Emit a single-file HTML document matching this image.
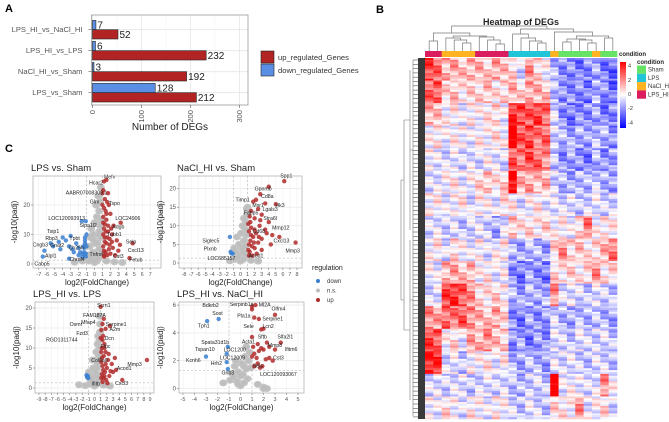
<!DOCTYPE html>
<html><head><meta charset="utf-8"><style>
body{margin:0;background:#fff}
svg{display:block;font-family:"Liberation Sans",sans-serif}
</style></head><body>
<svg id="fig" width="669" height="422" viewBox="0 0 669 422">
<g id="panelA"></g>
<g id="panelB"></g>
<g id="panelC"></g>
</svg>
<script>
// ---------- Panel A data ----------
const barCategories = ["LPS_HI_vs_NaCl_HI","LPS_HI_vs_LPS","NaCl_HI_vs_Sham","LPS_vs_Sham"];
const upValues = [52,232,192,212];
const downValues = [7,6,3,128];
const barTicks = [0,100,200,300];

// ---------- Panel B data ----------
const conditionGroups = ["LPS_HI","LPS_HI","NaCl_HI","NaCl_HI","NaCl_HI","NaCl_HI","LPS_HI","LPS_HI","LPS_HI","LPS_HI","LPS","LPS","LPS","LPS","LPS","NaCl_HI","Sham","Sham","Sham","Sham","NaCl_HI","Sham","Sham"];
const heatBlocks = [
 [2.5,2,1,1.2,0.8,1,1,0.6,1.2,0.8,0.5,-0.5,1.5,0.5,0,-1,-1.5,-1.5,-1.8,-1.5,-1.2,-1.8,-2],
 [2,2.2,0.5,0.8,0.3,0.6,0.5,0.8,0.3,0.5,1,0.5,1.2,1,0.8,-0.8,-1.5,-1.5,-1.5,-1.8,-1,-1.5,-2],
 [1,0.8,0,0.3,-0.3,0.2,0,0.3,0.5,-0.2,2.8,2.5,2.2,2.6,2,-0.5,-1.5,-1.8,-1.5,-1.5,-1.2,-1.8,-1.5],
 [0,0.3,-0.2,0.2,0,-0.3,0.2,0,0.4,0,4,2.2,2.5,1.8,2,-0.5,-1,-1.2,-1,-1.3,-0.8,-1,-1.5],
 [0,-0.3,-0.5,-0.2,-0.6,-0.3,-0.5,0,-0.3,-0.5,2.2,1.8,2.4,2,1.5,-0.8,-1.5,-1.2,-1.5,-1.8,-1,-1.5,-1.2],
 [-0.5,-0.3,0,0.3,-0.3,0,0.5,0.8,0.3,0.6,3.5,1,1.2,0.8,1,-0.5,-1,-1.2,-0.8,-1,-0.6,-1,-1.3],
 [0,0.2,-0.3,0,0.3,-0.5,0.2,0,-0.3,0.4,0.2,-0.5,0,0.3,-0.3,-0.3,-0.5,-0.3,-0.8,-0.5,-0.2,-0.6,-0.5],
 [-0.5,-0.3,-0.6,-0.4,-0.8,-0.5,-0.3,-0.6,-1.2,-0.4,0.8,0.3,0.5,0.2,0.6,0,0.2,-0.2,0.5,1.8,0,0.3,0.2],
 [0,0.3,-0.5,0.5,0,-0.3,0.2,-0.5,0,0.3,-1,-1.2,-0.8,-1,-1.3,0.5,1.5,0.5,0.8,0.3,0.5,1,1.8],
 [0,-0.3,1,1.2,0.8,1,0,0.3,-0.3,0,-1.5,-1.8,-1.2,-1.5,-1.8,0.5,0.3,0.6,0.2,0.5,1.5,0.3,0.5],
 [-0.5,-0.3,2.5,2.8,2.2,1.5,0.5,0.3,0.6,0.2,-1,-1.3,-0.8,-1.2,-1,1.5,-0.5,-0.3,-0.5,-0.8,-0.3,-0.6,-0.8],
 [1.5,1.2,2,1.8,2.2,1.5,1,0.8,1.2,0.5,-1.5,-1.8,-1.2,-1.5,-1.3,-0.5,-1,-1.2,-0.8,-1,-0.8,-1,-1.2],
 [2.5,2.2,0,0.5,-0.3,1.2,1,1.5,0.8,0.6,-1.5,-1.2,-1.8,-1.3,-1.5,-0.3,-0.5,-0.8,-0.3,-0.5,-0.6,-0.4,-0.8],
 [3,2.8,-0.5,-0.2,-0.8,0,0,0.3,-0.3,0.2,-1,-1.2,-0.8,-1,-1.3,-0.3,-0.5,-0.3,-0.6,-0.8,-0.4,-0.5,-0.8],
 [-0.5,-0.3,-0.6,-0.4,-0.3,-0.8,-0.5,-0.3,-0.6,-0.4,-0.8,-1,-0.6,-0.5,-0.8,4,-0.3,0,-0.2,-0.5,-0.3,1.5,0],
 [0,-0.3,0.5,0,-0.5,0.3,0,-0.3,0.2,0,-0.5,-0.8,-0.3,-0.5,-0.8,0.5,0.3,0,1.5,-0.3,0,0.5,-0.5]
];
const rowOffsets = [0.7,-0.6,0.2,-0.9,0.5,-0.2,1.0,-0.4,0.3,-0.7,0.1];
const colorTicks = [4,2,0,-2,-4];
const legendConditions = ["Sham","LPS","NaCl_HI","LPS_HI"];

// ---------- Panel C data ----------
const v1Up = [[1.2,28],[1.5,28.5],[1.1,25],[1.0,24],[1.3,22],[1.6,21],[1.8,20],[1.2,19],[1.4,18],[2.0,17],[1.1,16],[1.5,15],[3.3,14],[2.4,13],[1.2,12],[1.7,11],[2.2,10],[1.3,9],[1.9,8.5],[2.8,8],[1.5,7],[3.2,6.5],[1.1,6],[2.3,5.5],[1.8,5],[3.0,4.5],[1.4,4],[2.0,3.5],[2.6,3],[4.4,2],[1.2,2.5],[1.6,3],[4.8,7],[1.3,13.5],[2.1,12],[1.0,20],[1.7,24],[1.1,10],[1.3,7.5],[1.6,9],[1.2,4.5],[1.9,6.5],[1.4,11],[1.1,14],[1.5,17],[1.2,3],[2.2,7.5],[1.7,13]];
const v1Down = [[-6.5,2.5],[-6.3,4.5],[-5.5,7],[-5.2,6],[-4.5,7.5],[-4.3,5],[-4,9],[-3.6,8],[-3.2,6],[-3,9.5],[-2.8,5],[-2.6,4],[-2.3,7],[-2.0,3],[-1.8,4],[-1.5,2.5],[-1.3,5.5],[-1.2,7],[-1.1,3.5],[-1.0,10],[-1.6,14.5],[-1.1,14.5],[-3.2,1.8],[-1.4,6],[-2,5.5],[-1.2,9],[-1.1,2.5],[-1.3,4],[-1.0,6],[-1.2,8],[-1.5,3.5]];
const v1NS = [[0,0.5],[0.3,1],[-0.3,1.5],[0.5,2],[-0.5,2.5],[0.2,3],[-0.2,4],[0.6,5],[-0.6,6],[0.1,7],[-0.1,8],[0.4,10],[-0.4,12],[0,14],[0.3,16],[0.6,18],[0.2,20],[0.5,23],[0.8,9],[-0.8,3],[0.9,4],[-0.9,6],[0.7,13],[-0.7,1],[2.5,0.7],[-2.5,0.6],[3.5,0.5],[1.5,1],[-1.5,1],[0.8,26],[0.6,11],[-0.5,9],[0.4,7],[-0.2,10],[0.8,15],[0.7,21]];
const v1Labels = [["Mefv",1.9,29],["Hcar2",0.2,27],["AABR07008309.1",-1,23.5],["Glrx",0,20.5],["Tspo",2.5,20],["LOC120093913",-3.5,15],["LOC24906",4.2,15],["Sipa1l2",-0.8,12.5],["Adgb",3,12],["Tubb1",2.5,9.5],["Tsip1",-5.2,10.5],["Rbp3",-5.4,8.2],["Tpbt",-2.5,8.2],["Cngb3",-6.8,6],["Gnat2",-4.7,5.8],["Ch25h",-2.3,5],["Alpl1",-5.5,2.2],["Chrdl4",-2.2,1],["Cabp5",-6.6,-0.5],["Selp",4.6,7],["Cxcl13",5.2,4],["Tnfrsf",0.2,2.7],["Cst3",3,2],["Fetub",5.2,0.8]];

const v2Up = [[6.2,22],[4,20.5],[2.8,18.5],[2.2,17],[1.8,16.5],[3.5,16],[5,15.8],[2.5,14.5],[1.5,14],[3,13],[1.3,12.5],[2,12],[4,11],[2.7,10],[1.5,9.5],[3.5,9],[1.2,8.5],[2.2,8],[4.5,7.5],[1.8,7],[5.5,7],[3,6.5],[1.4,6],[2.5,5.5],[7.8,5.5],[4.3,5],[1.6,4.5],[2,4],[3,3.5],[1.3,3],[2.3,2.5],[1.7,2],[3.7,8],[2.8,11.5],[1.1,10.5],[1.2,5],[1.5,7.5],[2,9],[1.1,3.5],[1.9,5.5],[2.6,7],[1.4,11],[1.2,2]];
const v2Down = [[-1.5,7],[-1.4,3],[-1.1,2.5],[-1.3,2.6]];
const v2NS = [[0,0.5],[0.4,1],[-0.4,1.5],[0.6,2.5],[-0.6,3],[0.2,4],[-0.2,5],[0.5,6],[-0.5,7],[0.1,8],[0.7,9],[0.3,10],[0.8,11],[0.5,12],[0.9,13],[1,15],[0.9,14.5],[-0.8,1],[0.9,2],[-0.9,4],[1.5,0.7],[-1.5,0.6],[2.5,0.5],[0.8,7.5],[0.3,3],[-0.3,2],[0.6,4.5]];
const v2Labels = [["Spp1",6.5,23],["Gpnmb",3.2,19.5],["Cd8a",3.8,17.5],["Hk3",5.6,15],["Timp1",0.3,16.5],["Msr1",2.5,15],["Lgals3",4.2,14],["Fabp5",1.5,13],["Stra6l",4.2,11.5],["Mmp12",5.7,9],["Cd68",2.6,8],["Cxcl13",5.8,5.5],["Mmp3",7.4,2.8],["Siglec5",-4.2,5.5],["Plxnb",-4.3,3.3],["LOC685157",-2.7,0.8],["Acod1",2.2,1.5]];

const v3Up = [[1,20.3],[1.5,17.3],[2.5,15.5],[1.3,16],[1.8,14.8],[1.1,14.5],[1.4,13],[1.0,12.5],[1.6,11],[1.2,10],[1.8,9],[3.3,7.5],[1.5,8],[2.2,7],[1.1,6.5],[2.8,6],[1.3,5.5],[2,5],[3.5,4.5],[1.7,4],[1.2,3.5],[2.4,3],[1.5,2.5],[1.9,2],[4.5,2],[1.3,1.5],[8.5,7],[3,4],[2.6,4.2],[1.1,9],[1.6,3],[2.1,1.2],[1.2,7.5],[1.4,4.5],[1.8,6],[1.1,2.5],[2.3,8.5],[1.6,10],[1.3,12]];
const v3Down = [[-1.1,3],[-1.2,2.7],[-1.0,2.5],[-1.3,3.2]];
const v3NS = [[0,0.5],[0.4,1],[-0.4,1.5],[0.6,2],[-0.6,3],[0.2,4],[-0.2,5],[0.5,6],[-0.3,7],[0.7,8],[0.3,9],[0.8,10],[0.5,11],[0.8,12],[0.6,13],[0.9,14],[-0.8,1],[0.9,3],[-0.9,4],[1.5,0.7],[-1.5,0.6],[-2.5,0.8],[2.5,0.5],[0.9,16],[0.8,18],[-0.7,2.2],[0.3,3],[-0.3,2.5],[0.6,7],[0.4,5]];
const v3Labels = [["Scrn1",1.5,20.3],["FAM187A",0,17.8],["Serpine1",3.5,15.5],["Osmr",-3,15.5],["Mfap4",-1,16],["A2m",3.3,14.2],["Fzd3",-2,13.2],["Dcn",2.4,12],["RGD1311744",-5.3,11.6],["Flnc",1.8,10],["Col6a0",0.8,6.5],["Acod1",4.8,4.5],["Mmp3",6.5,5.5],["Cxcl3",4.4,0.8],["Ifitb",0.2,0.6]];

const v4Up = [[1,5.9],[1.3,6],[1.0,5.7],[3,5.3],[1.2,5.1],[1.6,5],[2,4.3],[1.8,4.25],[1,3.7],[1.5,3.2],[2.3,3.3],[3.5,3.3],[2.5,3],[1.8,2.9],[3,2.8],[2.0,2.8],[1.2,2.5],[1.6,2.7],[2.8,2],[2.2,2.1],[1.0,2.3],[1.5,1.8],[1.2,1.6],[1.9,1.6],[1.1,3],[2.5,2.2],[1.4,2.2],[1.7,1.5]];
const v4Down = [[-2.9,4.85],[-1.9,5],[-1.1,3],[-1.2,2.5],[-3,2.3],[-1.2,1.9],[-1.1,1.4]];
const v4NS = [[0,0.2],[0.3,0.4],[-0.3,0.5],[0.6,0.7],[-0.6,0.8],[0.2,1],[-0.2,1.2],[0.5,1.4],[-0.5,1.6],[0.1,1.8],[0.7,2],[-0.7,1.1],[0.9,1.5],[0.4,2.3],[-0.9,0.6],[1.5,0.3],[2,0.1],[-1.5,0.4],[0.8,2.6],[0.5,3],[-0.4,2],[2,0],[2.3,0],[0,0.9],[0.3,1.6],[-0.2,0.3]];
const v4Labels = [["Bdkrb2",-2.6,5.85],["Serpinb1a",0.1,5.95],["Ml2A",2.1,5.9],["Olfm4",3.3,5.6],["Sost",-2,5.3],["Pla1a",0.3,5.1],["Serpine1",2.8,4.9],["Tph1",-3.2,4.4],["Sele",0.7,4.35],["Lcn2",2.4,4.35],["Sftb",1.9,3.6],["Slfa2l1",3.9,3.6],["Spata31d1b",-2.2,3.2],["Acta1",0.7,3.25],["Mmp8",3,3],["Ifitm6",4.4,2.7],["Tspan10",-3.1,2.7],["LOC1200",-0.5,2.65],["Cst3",3.3,2.1],["Kcnh6",-4.1,1.9],["LOC12009",-0.7,2.1],["Hrh2",-2.1,1.7],["Sels",1.5,1.5],["Gnb3",-1.1,1],["LOC120093067",3.3,0.9]];

// ---------- helpers ----------
const NS="http://www.w3.org/2000/svg";
function mk(parent,tag,attrs,txt){const e=document.createElementNS(NS,tag);for(const k in attrs)e.setAttribute(k,attrs[k]);if(txt!==undefined)e.textContent=txt;parent.appendChild(e);return e;}
const gA=document.getElementById('panelA'),gB=document.getElementById('panelB'),gC=document.getElementById('panelC');

[["A",5,12],["B",376,13],["C",5,152]].forEach(p=>{const t=mk(document.getElementById('fig'),'text',{x:p[1],y:p[2],'font-size':11,'font-weight':'bold',fill:'#000'},p[0]);

});

// ---------- Panel A ----------
(function(){
 const L=91.5,R=248,T=15,B=105,x0=92.5,k=0.49;
 const xs=v=>x0+v*k;
 const cy=[29.7,50.7,71.7,92.7];
 mk(gA,'rect',{x:L,y:T,width:R-L,height:B-T,fill:'#fff'});
 barTicks.forEach(t=>{mk(gA,'line',{x1:xs(t),x2:xs(t),y1:T,y2:B,stroke:'#e6e6e6','stroke-width':0.8});});
 [50,150,250].forEach(t=>mk(gA,'line',{x1:xs(t),x2:xs(t),y1:T,y2:B,stroke:'#f2f2f2','stroke-width':0.5}));
 cy.forEach(y=>mk(gA,'line',{x1:L,x2:R,y1:y,y2:y,stroke:'#e6e6e6','stroke-width':0.8}));
 barCategories.forEach((c,i)=>{
  const y=cy[i];
  const db=mk(gA,'rect',{x:xs(0),y:y-9.3,width:Math.max(downValues[i]*k,1),height:9.3,fill:'#5b8fe6',stroke:'#222','stroke-width':0.6});
  
  
  const ub=mk(gA,'rect',{x:xs(0),y:y,width:upValues[i]*k,height:9.3,fill:'#b22424',stroke:'#222','stroke-width':0.6});
  
  
  mk(gA,'text',{x:xs(downValues[i])+1.5,y:y-1,'font-size':10,fill:'#222'},downValues[i]);
  mk(gA,'text',{x:xs(upValues[i])+1.5,y:y+8.5,'font-size':10,fill:'#222'},upValues[i]);
  const lt=mk(gA,'text',{x:L-9,y:y+2.5,'font-size':7.6,fill:'#555','text-anchor':'end'},c);
  
  
  mk(gA,'line',{x1:L-3,x2:L,y1:y,y2:y,stroke:'#555','stroke-width':0.6});
 });
 mk(gA,'rect',{x:L,y:T,width:R-L,height:B-T,fill:'none',stroke:'#999','stroke-width':0.8});
 barTicks.forEach(t=>{mk(gA,'line',{x1:xs(t),x2:xs(t),y1:B,y2:B+3,stroke:'#555','stroke-width':0.6});
  mk(gA,'text',{x:0,y:0,'font-size':7.6,fill:'#555','text-anchor':'end',transform:`translate(${xs(t)+2.7},${B+5}) rotate(-90)`},t);});
 const xt=mk(gA,'text',{x:170,y:130,'font-size':10,fill:'#222','text-anchor':'middle'},'Number of DEGs');
 
 
 mk(gA,'rect',{x:261,y:51,width:13,height:12,fill:'#b22424',stroke:'#222','stroke-width':0.6});
 mk(gA,'rect',{x:261,y:64,width:13,height:12,fill:'#5b8fe6',stroke:'#222','stroke-width':0.6});
 const l1=mk(gA,'text',{x:278,y:60,'font-size':7.6,fill:'#333'},'up_regulated_Genes');
 
 
 const l2=mk(gA,'text',{x:278,y:73,'font-size':7.6,fill:'#333'},'down_regulated_Genes');
 
 
})();

// ---------- Panel B ----------
(function(){
 const X0=425,X1=617,Y0=58,Y1=419,nc=conditionGroups.length;
 const cw=(X1-X0)/nc;
 const condColor={Sham:'#66e366',LPS:'#22c4d8',NaCl_HI:'#ffb320',LPS_HI:'#d91d5e'};
 function col(v){v=Math.max(-4,Math.min(4,v));const t=Math.min(1,Math.abs(v)/3.4);
  const a=Math.round(255*(1-t));return v>=0?`rgb(255,${a},${a})`:`rgb(${a},${a},255)`;}
 const t=mk(gB,'text',{x:521,y:25,'font-size':9,'font-weight':'bold','text-anchor':'middle',fill:'#222'},'Heatmap of DEGs');
 
 
 conditionGroups.forEach((c,i)=>{const r=mk(gB,'rect',{x:X0+i*cw,y:51,width:cw+0.3,height:6,fill:condColor[c]});
  
  });
 const nb=heatBlocks.length,bh=(Y1-Y0)/nb,sub=12,sh=bh/sub;
 heatBlocks.forEach((row,bi)=>{
  for(let s=0;s<sub;s++){
   row.forEach((v,ci)=>{
    const off=rowOffsets[(s*2+ci*3+bi)%rowOffsets.length];
    const r=mk(gB,'rect',{x:X0+ci*cw,y:Y0+bi*bh+s*sh,width:cw+0.3,height:sh+0.3,fill:col(v+off)});
    
    
   });
  }
 });
 const cx=i=>X0+(i+0.5)*cw;
 function node(h,a,b){return {h,a,b};}
 function leaf(i){return {i};}
 const tree=node(26,
  node(33,node(41,leaf(0),leaf(1)),node(36,node(38,leaf(2),node(40,leaf(3),node(43,leaf(4),leaf(5)))),node(37,leaf(6),node(40,leaf(7),node(44,leaf(8),leaf(9)))))),
  node(29,node(34,leaf(10),node(38,leaf(11),node(41,leaf(12),node(43,leaf(13),leaf(14))))),
   node(32,leaf(15),node(36,node(39,node(42,leaf(16),leaf(17)),node(40,leaf(18),node(43,leaf(19),leaf(20)))),node(38,leaf(21),leaf(22))))));
 function draw(n){if(n.i!==undefined)return {x:cx(n.i),y:51};
  const A=draw(n.a),B=draw(n.b);
  mk(gB,'path',{d:`M${A.x},${A.y}V${n.h}H${B.x}V${B.y}`,fill:'none',stroke:'#777','stroke-width':0.7});
  return {x:(A.x+B.x)/2,y:n.h};}
 draw(tree);
 const ld=mk(gB,'rect',{x:418,y:Y0,width:7,height:Y1-Y0,fill:'#3a3a3a'});
 
 
 for(let y=Y0+2;y<Y1;y+=4.3){mk(gB,'line',{x1:413,x2:418,y1:y,y2:y,stroke:'#555','stroke-width':0.6});}
 mk(gB,'path',{d:'M413,60V416 M410,70V230 M410,240V400 M404,120V330 M401,180V300 M404,120H410 M404,330H410 M410,150H413 M410,300H413 M401,300H404 M401,180H404',fill:'none',stroke:'#777','stroke-width':0.6});
 const defs=mk(gB,'defs',{});const lg=mk(defs,'linearGradient',{id:'cb',x1:0,y1:0,x2:0,y2:1});
 [['0','#ff0000'],['0.5','#ffffff'],['1','#0000ff']].forEach(s=>mk(lg,'stop',{offset:s[0],'stop-color':s[1]}));
 mk(gB,'rect',{x:620,y:62,width:6,height:66,fill:'url(#cb)'});
 const cyv=v=>94-v*7.1;
 colorTicks.forEach(v=>mk(gB,'text',{x:628,y:cyv(v)+2,'font-size':5.5,fill:'#333'},v));
 mk(gB,'text',{x:619,y:56,'font-size':6,'font-weight':'bold',fill:'#222'},'condition');
 mk(gB,'text',{x:637,y:64,'font-size':6,'font-weight':'bold',fill:'#222'},'condition');
 legendConditions.forEach((c,i)=>{mk(gB,'rect',{x:637,y:65.5+i*8.3,width:9,height:8.3,fill:condColor[c]});
  const l=mk(gB,'text',{x:648,y:71.5+i*8.3,'font-size':6,fill:'#333'},c);
  
  });
})();

// ---------- Panel C ----------
function volcano(cfg){
 const g=mk(gC,'g',{});
 
 
 const xs=v=>cfg.x0+v*cfg.kx, ys=v=>cfg.y0-v*cfg.ky;
 mk(g,'rect',{x:cfg.L,y:cfg.T,width:cfg.R-cfg.L,height:cfg.B-cfg.T,fill:'#fff'});
 cfg.xt.forEach(t=>mk(g,'line',{x1:xs(t),x2:xs(t),y1:cfg.T,y2:cfg.B,stroke:'#ececec','stroke-width':0.5}));
 cfg.yt.forEach(t=>mk(g,'line',{x1:cfg.L,x2:cfg.R,y1:ys(t),y2:ys(t),stroke:'#e4e4e4','stroke-width':0.6}));
 [-1,1].forEach(v=>mk(g,'line',{x1:xs(v),x2:xs(v),y1:cfg.T,y2:cfg.B,stroke:'#bbb','stroke-width':0.6,'stroke-dasharray':'2,2'}));
 mk(g,'line',{x1:cfg.L,x2:cfg.R,y1:ys(1.3),y2:ys(1.3),stroke:'#bbb','stroke-width':0.6,'stroke-dasharray':'2,2'});
 const pts=(arr,fill,nm)=>arr.forEach(p=>{const c=mk(g,'circle',{cx:xs(p[0]),cy:ys(p[1]),r:2.2,fill,'fill-opacity':0.85});
  
  });
 cfg.ns.forEach(p=>{mk(g,'ellipse',{cx:xs(p[0]),cy:ys(p[1]),rx:4,ry:3.5,fill:'#c4c4c4'});});
 pts(cfg.ns,'#bdbdbd','point-ns');
 pts(cfg.down,'#3a7fd0','point-down');
 pts(cfg.up,'#b22a2a','point-up');
 cfg.labels.forEach(l=>mk(g,'text',{x:xs(l[1]),y:ys(l[2]),'font-size':5.2,fill:'#222','text-anchor':'middle'},l[0]));
 mk(g,'rect',{x:cfg.L,y:cfg.T,width:cfg.R-cfg.L,height:cfg.B-cfg.T,fill:'none',stroke:'#aaa','stroke-width':0.7});
 cfg.xt.forEach(t=>{mk(g,'line',{x1:xs(t),x2:xs(t),y1:cfg.B,y2:cfg.B+2,stroke:'#666','stroke-width':0.5});
  mk(g,'text',{x:xs(t),y:cfg.B+8,'font-size':5.5,fill:'#555','text-anchor':'middle'},t);});
 cfg.yt.forEach(t=>{mk(g,'line',{x1:cfg.L-2,x2:cfg.L,y1:ys(t),y2:ys(t),stroke:'#666','stroke-width':0.5});
  mk(g,'text',{x:cfg.L-3,y:ys(t)+2,'font-size':6,fill:'#555','text-anchor':'end'},t);});
 const ti=mk(g,'text',{x:cfg.L-2,y:cfg.T-5,'font-size':9.5,fill:'#222'},cfg.title);
 
 
 mk(g,'text',{x:(cfg.L+cfg.R)/2,y:cfg.B+17,'font-size':8,fill:'#222','text-anchor':'middle'},'log2(FoldChange)');
 mk(g,'text',{x:0,y:0,'font-size':8,fill:'#222','text-anchor':'middle',transform:`translate(${cfg.L-16},${(cfg.T+cfg.B)/2}) rotate(-90)`},'-log10(padj)');
}
const rng=(a,b)=>{const r=[];for(let i=a;i<=b;i++)r.push(i);return r;};
volcano({name:'volcano-lps-vs-sham',title:'LPS vs. Sham',L:33,R:161,T:176,B:268,x0:94.5,kx:7.95,y0:264,ky:2.95,xt:rng(-7,7),yt:[0,10,20],up:v1Up,down:v1Down,ns:v1NS,labels:v1Labels});
volcano({name:'volcano-nacl-hi-vs-sham',title:'NaCl_HI vs. Sham',L:179,R:302,T:176,B:268,x0:240.5,kx:7.06,y0:263,ky:3.72,xt:rng(-8,8),yt:[0,5,10,15,20],up:v2Up,down:v2Down,ns:v2NS,labels:v2Labels});
volcano({name:'volcano-lps-hi-vs-lps',title:'LPS_HI vs. LPS',L:35,R:154,T:302,B:393,x0:94.5,kx:6.17,y0:388,ky:4.0,xt:rng(-9,9),yt:[0,5,10,15,20],up:v3Up,down:v3Down,ns:v3NS,labels:v3Labels});
volcano({name:'volcano-lps-hi-vs-nacl-hi',title:'LPS_HI vs. NaCl_HI',L:179,R:304,T:302,B:393,x0:240.5,kx:11.5,y0:388.5,ky:13.9,xt:rng(-5,5),yt:[0,2,4,6],up:v4Up,down:v4Down,ns:v4NS,labels:v4Labels});
(function(){
 mk(gC,'text',{x:312,y:270,'font-size':7,fill:'#222'},'regulation');
 [['down','#3a7fd0'],['n.s.','#bdbdbd'],['up','#b22a2a']].forEach((d,i)=>{
  mk(gC,'circle',{cx:318,cy:281+i*9.5,r:2,fill:d[1]});
  const t=mk(gC,'text',{x:327,y:283+i*9.5,'font-size':6,fill:'#333'},d[0]);
  
  
 });
})();
</script>
</body></html>
